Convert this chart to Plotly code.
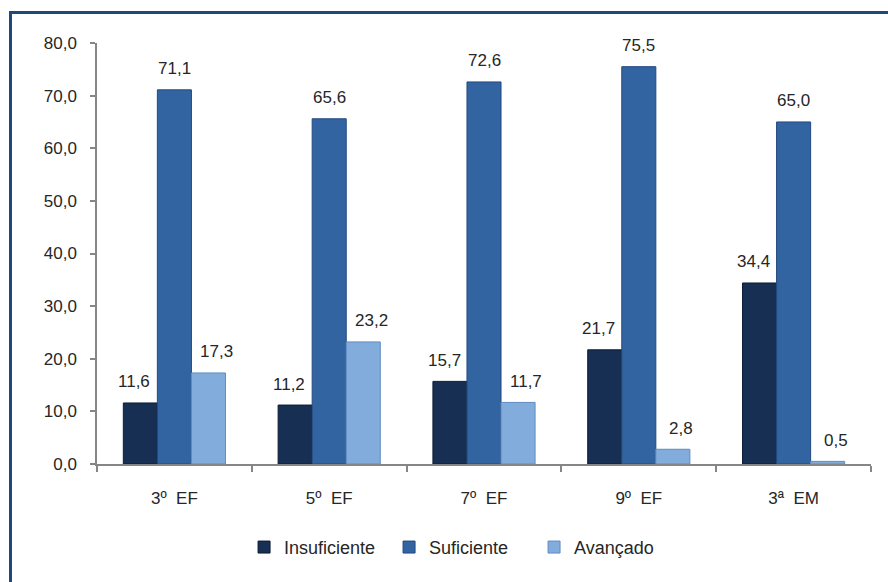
import plotly.graph_objects as go

# Proficiency distribution (%) by school year
categories = ["3º  EF", "5º  EF", "7º  EF", "9º  EF", "3ª  EM"]
insuficiente = [11.6, 11.2, 15.7, 21.7, 34.4]
suficiente = [71.1, 65.6, 72.6, 75.5, 65.0]
avancado = [17.3, 23.2, 11.7, 2.8, 0.5]

y_ticks = [0, 10, 20, 30, 40, 50, 60, 70, 80]

W, H = 888, 582
ML, MR, MT, MB = 97, 17, 43, 118

FONT = "Liberation Sans, Arial, sans-serif"
TXT = "#262626"

series = [
    ("Insuficiente", insuficiente, "#172f52", "#0c1d36", -40),
    ("Suficiente", suficiente, "#3264a2", "#224a7e", 0),
    ("Avançado", avancado, "#82acdc", "#5f8cc2", 42),
]

fig = go.Figure()
for name, vals, color, edge, _ in series:
    fig.add_trace(go.Bar(
        x=categories, y=vals, name=name,
        marker=dict(color=color, line=dict(color=edge, width=1)),
    ))

# value labels above each bar
annotations = []
for name, vals, _, _, dx in series:
    for cat, v in zip(categories, vals):
        annotations.append(dict(
            x=cat, y=v, xref="x", yref="y",
            text=f"{v:.1f}".replace(".", ","),
            showarrow=False, xshift=dx, yshift=21,
            yanchor="middle",
            font=dict(family=FONT, size=17, color=TXT),
        ))

# frame line along the top and left edges of the figure
pw, ph = W - ML - MR, H - MT - MB
x_left = (10.5 - ML) / pw
y_top = (H - MB - 12.5) / ph
shapes = [dict(
    type="rect", xref="paper", yref="paper",
    x0=x_left, x1=1.5, y0=-1.0, y1=y_top,
    line=dict(color="#1f497d", width=3), fillcolor="rgba(0,0,0,0)",
    layer="below",
)]

fig.update_layout(
    width=W, height=H,
    margin=dict(l=ML, r=MR, t=MT, b=MB),
    paper_bgcolor="white", plot_bgcolor="white",
    barmode="group", bargap=0.34, bargroupgap=0,
    separators=",.",
    font=dict(family=FONT, size=17, color=TXT),
    showlegend=True,
    legend=dict(
        orientation="h", x=0.19, xanchor="left", y=-0.198, yanchor="middle",
        font=dict(family=FONT, size=18, color=TXT),
        itemwidth=30, traceorder="normal", entrywidth=100,
    ),
    annotations=annotations,
    shapes=shapes,
    xaxis=dict(
        showline=True, linecolor="#868686", linewidth=1.5,
        ticks="outside", ticklen=6, tickcolor="#868686", tickwidth=1.5,
        tickson="boundaries", showgrid=False, zeroline=False,
        tickfont=dict(family=FONT, size=17, color=TXT),
        ticklabelstandoff=18,
    ),
    yaxis=dict(
        range=[0, 80], tickvals=y_ticks, tickformat=".1f",
        showline=True, linecolor="#868686", linewidth=1.5,
        ticks="outside", ticklen=5, tickcolor="#868686", tickwidth=1.5,
        showgrid=False, zeroline=False,
        tickfont=dict(family=FONT, size=17, color=TXT),
        ticklabelstandoff=10,
    ),
)

fig.write_html("out.html")
